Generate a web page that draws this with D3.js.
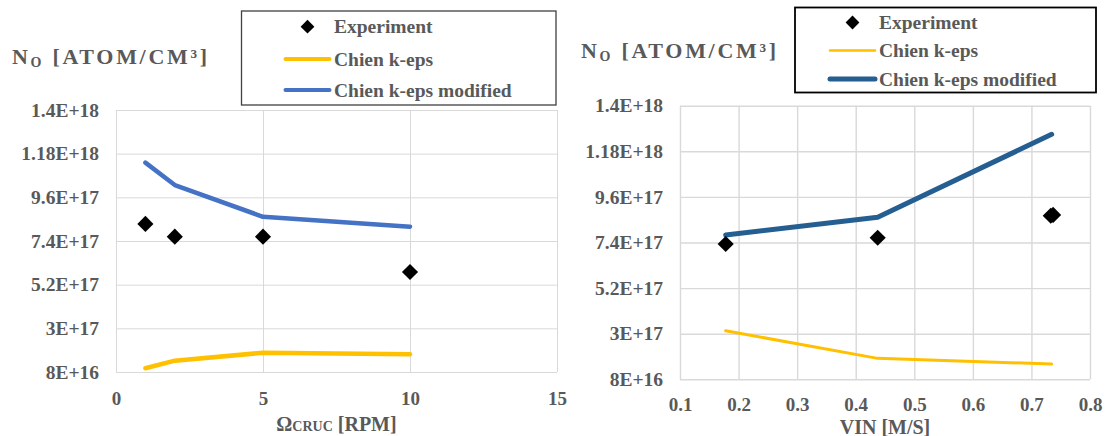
<!DOCTYPE html>
<html>
<head>
<meta charset="utf-8">
<script src="https://cdn.jsdelivr.net/npm/d3@7"></script>
<style>
  body { margin: 0; background: #fff; }
  svg text {
    font-family: "Liberation Serif", "Times New Roman", serif;
    font-weight: bold;
    fill: #595959;
  }
</style>
</head>
<body>
<svg id="chart" width="1106" height="436"></svg>
<script>
// shared y axis
const yTicks = [8e16, 3e17, 5.2e17, 7.4e17, 9.6e17, 1.18e18, 1.4e18];
const yTickLabels = ["8E+16", "3E+17", "5.2E+17", "7.4E+17", "9.6E+17", "1.18E+18", "1.4E+18"];
const seriesNames = ["Experiment", "Chien k-eps", "Chien k-eps modified"];

// left panel: crucible rotation
const rpmTicks = [0, 5, 10, 15];
const rpmX = [1, 2, 5, 10];
const rpmChien = [9.9e16, 1.37e17, 1.77e17, 1.69e17];
const rpmModified = [1.135e18, 1.022e18, 8.62e17, 8.12e17];
const rpmExp = [8.26e17, 7.62e17, 7.62e17, 5.84e17];

// right panel: inlet velocity
const vinTicks = [0.1, 0.2, 0.3, 0.4, 0.5, 0.6, 0.7, 0.8];
const vinX = [0.178, 0.4375, 0.7346];
const vinChien = [3.14e17, 1.81e17, 1.54e17];
const vinModified = [7.76e17, 8.62e17, 1.262e18];
const vinExpX = [0.178, 0.4375, 0.733, 0.737];
const vinExp = [7.33e17, 7.63e17, 8.69e17, 8.73e17];

const svg = d3.select("#chart");

function zip(xs, ys) {
  return xs.map((v, i) => [v, ys[i]]);
}

// draws one panel: grid, axes, lines, diamonds, titles, legend
function panel(cfg) {
  let x = d3.scaleLinear().domain(cfg.xDomain).range([cfg.left, cfg.right]);
  let y = d3.scaleLinear().domain([yTicks[0], yTicks[yTicks.length - 1]]).range([cfg.bottom, cfg.top]);
  let g = svg.append("g");

  // gridlines
  g.append("g")
    .attr("transform", "translate(0," + cfg.bottom + ")")
    .call(d3.axisBottom(x).tickValues(cfg.xTicks).tickSize(-(cfg.bottom - cfg.top)).tickFormat(""))
    .call(a => a.select(".domain").remove())
    .selectAll("line").attr("stroke", "#d9d9d9").attr("stroke-width", cfg.gridW);

  g.append("g")
    .attr("transform", "translate(" + cfg.left + ",0)")
    .call(d3.axisLeft(y).tickValues(yTicks).tickSize(-(cfg.right - cfg.left)).tickFormat(""))
    .call(a => a.select(".domain").remove())
    .selectAll("line").attr("stroke", "#d9d9d9").attr("stroke-width", cfg.gridW);

  // tick labels
  g.append("g")
    .attr("transform", "translate(0," + cfg.bottom + ")")
    .call(d3.axisBottom(x).tickValues(cfg.xTicks).tickSize(0).tickPadding(cfg.xPad).tickFormat(cfg.xFormat))
    .call(a => a.select(".domain").remove())
    .selectAll("text").style("font-size", "19px").attr("fill", "#595959");

  g.append("g")
    .attr("transform", "translate(" + cfg.left + ",0)")
    .call(d3.axisLeft(y).tickValues(yTicks).tickSize(0).tickPadding(17).tickFormat((d, i) => yTickLabels[i]))
    .call(a => a.select(".domain").remove())
    .selectAll("text").style("font-size", "19.5px").attr("fill", "#595959");

  // model lines
  let line = d3.line().x(d => x(d[0])).y(d => y(d[1]));

  g.append("path")
    .datum(zip(cfg.lineX, cfg.chien))
    .attr("d", line)
    .attr("fill", "none")
    .attr("stroke", "#ffc000")
    .attr("stroke-width", cfg.yellowW)
    .attr("stroke-linecap", "round")
    .attr("stroke-linejoin", "round");

  g.append("path")
    .datum(zip(cfg.lineX, cfg.modified))
    .attr("d", line)
    .attr("fill", "none")
    .attr("stroke", cfg.blue)
    .attr("stroke-width", cfg.blueW)
    .attr("stroke-linecap", "round")
    .attr("stroke-linejoin", "round");

  // experiment diamonds
  let diamond = d3.symbol(d3.symbolSquare, 130);
  g.selectAll(".exp")
    .data(zip(cfg.expX, cfg.exp))
    .enter().append("path")
      .attr("class", "exp")
      .attr("d", diamond)
      .attr("fill", "#000")
      .attr("transform", d => "translate(" + x(d[0]) + "," + y(d[1]) + ") rotate(45)");

  // y title
  let t = g.append("text")
    .attr("x", cfg.titleX)
    .attr("y", cfg.titleY)
    .style("font-size", "22px")
    .style("letter-spacing", "2.7px");
  t.append("tspan").text("N");
  t.append("tspan").attr("dy", 3).style("font-size", "14px").text("O");
  t.append("tspan").attr("dy", -3).text(" [ATOM/CM³]");

  // x title
  let xt = g.append("text")
    .attr("x", (cfg.left + cfg.right) / 2)
    .attr("y", cfg.xTitleY)
    .attr("text-anchor", "middle")
    .style("font-size", "20px");
  cfg.xTitle.forEach(p => {
    xt.append("tspan").style("font-size", p[1] + "px").text(p[0]);
  });

  // legend
  let L = cfg.legend;
  let lg = g.append("g").attr("transform", "translate(" + L.x + "," + L.y + ")");
  lg.append("rect")
    .attr("width", L.w)
    .attr("height", L.h)
    .attr("fill", "#fff")
    .attr("stroke", L.stroke)
    .attr("stroke-width", L.strokeW);

  lg.append("path")
    .attr("d", d3.symbol(d3.symbolSquare, 95))
    .attr("fill", "#000")
    .attr("transform", "translate(" + (L.lineX0 + L.lineX1) / 2 + "," + L.rows[0] + ") rotate(45)");

  let legendLines = [[1, "#ffc000", cfg.legendYellowW], [2, cfg.blue, cfg.legendBlueW]];
  legendLines.forEach(r => {
    lg.append("line")
      .attr("x1", L.lineX0).attr("x2", L.lineX1)
      .attr("y1", L.rows[r[0]]).attr("y2", L.rows[r[0]])
      .attr("stroke", r[1])
      .attr("stroke-width", r[2])
      .attr("stroke-linecap", "round");
  });

  seriesNames.forEach((s, i) => {
    lg.append("text")
      .attr("x", L.textX)
      .attr("y", L.rows[i] + 6.5)
      .style("font-size", "19.5px")
      .text(s);
  });
}

panel({
  left: 116, right: 557, top: 110, bottom: 372,
  xDomain: [0, 15], xTicks: rpmTicks, xFormat: d3.format("d"), xPad: 20,
  lineX: rpmX, chien: rpmChien, modified: rpmModified,
  expX: rpmX, exp: rpmExp,
  blue: "#4472c4", blueW: 4.5, yellowW: 4.5, gridW: 1,
  legendYellowW: 4, legendBlueW: 4,
  titleX: 12, titleY: 64,
  xTitle: [["Ω", 20], ["CRUC", 14], [" [RPM]", 20]], xTitleY: 431,
  legend: { x: 241.5, y: 11, w: 314.5, h: 94, stroke: "#404040", strokeW: 1.3,
            lineX0: 44, lineX1: 88, textX: 92.5, rows: [15.7, 48, 79] }
});

panel({
  left: 680, right: 1090, top: 105.7, bottom: 379.3,
  xDomain: [0.1, 0.8], xTicks: vinTicks, xFormat: d3.format(".1f"), xPad: 18.5,
  lineX: vinX, chien: vinChien, modified: vinModified,
  expX: vinExpX, exp: vinExp,
  blue: "#255e91", blueW: 5, yellowW: 3, gridW: 1.4,
  legendYellowW: 2.5, legendBlueW: 5,
  titleX: 581, titleY: 58,
  xTitle: [["VIN [M/S]", 20]], xTitleY: 433.5,
  legend: { x: 795, y: 7.5, w: 301, h: 85, stroke: "#000", strokeW: 1.8,
            lineX0: 35, lineX1: 80, textX: 84, rows: [15, 43, 71.5] }
});
</script>
</body>
</html>
